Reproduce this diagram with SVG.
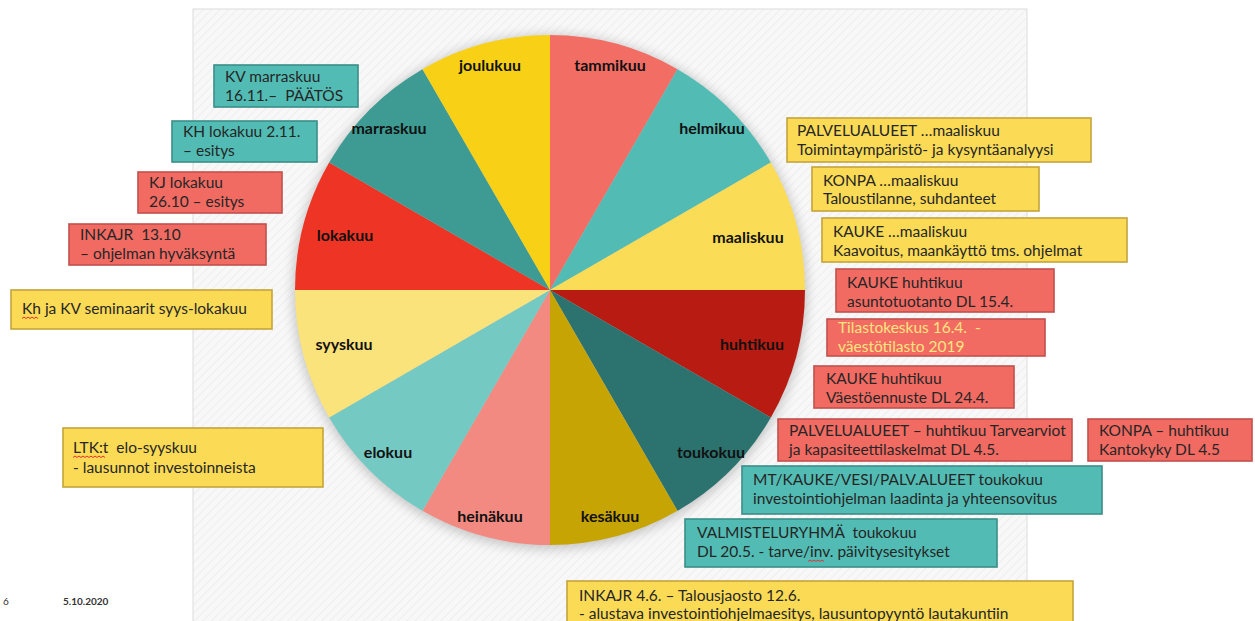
<svg xmlns="http://www.w3.org/2000/svg" width="1255" height="621" viewBox="0 0 1255 621">
<defs>
<pattern id="hatch" width="6" height="6" patternUnits="userSpaceOnUse" patternTransform="rotate(45)">
<rect width="6" height="6" fill="#F8F8F8"/>
<line x1="0" y1="0" x2="0" y2="6" stroke="#EBEBEB" stroke-width="1.5"/>
</pattern>
<filter id="shadow" x="-20%" y="-20%" width="140%" height="140%">
<feGaussianBlur stdDeviation="6"/>
</filter>
<style>
.lbl{font-family:Lato,"Noto Sans",sans-serif;font-weight:bold;font-size:16px;fill:#111;text-anchor:middle}
.bx{font-family:Lato,"Noto Sans",sans-serif;font-size:15.5px;fill:#262626;white-space:pre}
.teal{fill:#52BCB4;stroke:#3A8E88;stroke-width:1.6}
.red{fill:#F26B63;stroke:#C0504D;stroke-width:1.6}
.yel{fill:#FBDB55;stroke:#C4A43A;stroke-width:1.6}
.sq{fill:none;stroke:#E03030;stroke-width:1}
.foot{font-family:Lato,"Noto Sans",sans-serif;font-size:10px;fill:#333}
</style>
</defs>
<rect width="1255" height="621" fill="#FFFFFF"/>
<rect x="193" y="9" width="834" height="620" fill="url(#hatch)" stroke="#DCDCDC" stroke-width="1"/>

<g id="pie">
<circle cx="550" cy="292" r="257" fill="#9A9A9A" opacity="0.55" filter="url(#shadow)"/>
<path id="tammikuu" d="M550,290 L550,35 A255,255 0 0 1 677.5,69.16 Z" fill="#F26E65"/>
<path id="helmikuu" d="M550,290 L677.5,69.16 A255,255 0 0 1 770.84,162.5 Z" fill="#52BBB4"/>
<path id="maaliskuu" d="M550,290 L770.84,162.5 A255,255 0 0 1 805,290 Z" fill="#FADC57"/>
<path id="huhtikuu" d="M550,290 L805,290 A255,255 0 0 1 770.84,417.5 Z" fill="#B81B11"/>
<path id="toukokuu" d="M550,290 L770.84,417.5 A255,255 0 0 1 677.5,510.84 Z" fill="#2C736F"/>
<path id="kesakuu" d="M550,290 L677.5,510.84 A255,255 0 0 1 550,545 Z" fill="#C6A404"/>
<path id="heinakuu" d="M550,290 L550,545 A255,255 0 0 1 422.5,510.84 Z" fill="#F38A82"/>
<path id="elokuu" d="M550,290 L422.5,510.84 A255,255 0 0 1 329.16,417.5 Z" fill="#75C9C3"/>
<path id="syyskuu" d="M550,290 L329.16,417.5 A255,255 0 0 1 295,290 Z" fill="#FBE37B"/>
<path id="lokakuu" d="M550,290 L295,290 A255,255 0 0 1 329.16,162.5 Z" fill="#EE3424"/>
<path id="marraskuu" d="M550,290 L329.16,162.5 A255,255 0 0 1 422.5,69.16 Z" fill="#3D9B94"/>
<path id="joulukuu" d="M550,290 L422.5,69.16 A255,255 0 0 1 550,35 Z" fill="#F8D117"/>
<text class="lbl" x="610" y="71">tammikuu</text>
<text class="lbl" x="712" y="134">helmikuu</text>
<text class="lbl" x="748" y="243">maaliskuu</text>
<text class="lbl" x="752" y="350">huhtikuu</text>
<text class="lbl" x="711" y="458">toukokuu</text>
<text class="lbl" x="610" y="522">kesäkuu</text>
<text class="lbl" x="490" y="522">heinäkuu</text>
<text class="lbl" x="388" y="458">elokuu</text>
<text class="lbl" x="344" y="350">syyskuu</text>
<text class="lbl" x="345" y="241">lokakuu</text>
<text class="lbl" x="389" y="134">marraskuu</text>
<text class="lbl" x="490" y="71">joulukuu</text>
</g>

<g id="connectors"/>

<g id="kv-marraskuu">
<rect class="teal" x="214" y="65" width="144" height="42"/>
<text class="bx" x="225" y="82">KV marraskuu</text>
<text class="bx" x="225" y="101">16.11.–  PÄÄTÖS</text>
</g>
<g id="kh-lokakuu">
<rect class="teal" x="172" y="121" width="145" height="41"/>
<text class="bx" x="183" y="137">KH lokakuu 2.11.</text>
<text class="bx" x="183" y="156">– esitys</text>
</g>
<g id="kj-lokakuu">
<rect class="red" x="138" y="172" width="144" height="41"/>
<text class="bx" x="149" y="188">KJ lokakuu</text>
<text class="bx" x="149" y="207">26.10 – esitys</text>
</g>
<g id="inkajr-1310">
<rect class="red" x="69" y="224" width="197" height="41"/>
<text class="bx" x="80" y="240">INKAJR  13.10</text>
<text class="bx" x="80" y="259">– ohjelman hyväksyntä</text>
</g>
<g id="seminaarit">
<rect class="yel" x="11" y="290" width="261" height="39"/>
<text class="bx" x="22" y="314">Kh ja KV seminaarit syys-lokakuu</text>
<path class="sq" d="M22,318.5 l2,-1.5 2,1.5 2,-1.5 2,1.5 2,-1.5 2,1.5 2,-1.5 2,1.5"/>
</g>
<g id="ltk">
<rect class="yel" x="63" y="428" width="260" height="59"/>
<text class="bx" x="73" y="453">LTK:t  elo-syyskuu</text>
<text class="bx" x="73" y="473">- lausunnot investoinneista</text>
<path class="sq" d="M73,457.5 l2,-1.5 2,1.5 2,-1.5 2,1.5 2,-1.5 2,1.5 2,-1.5 2,1.5 2,-1.5 2,1.5 2,-1.5 2,1.5 2,-1.5 2,1.5 2,-1.5 2,1.5"/>
</g>

<g id="palvelualueet-maaliskuu">
<rect class="yel" x="787" y="118" width="304" height="44"/>
<text class="bx" x="797" y="136">PALVELUALUEET …maaliskuu</text>
<text class="bx" x="797" y="155">Toimintaympäristö- ja kysyntäanalyysi</text>
</g>
<g id="konpa-maaliskuu">
<rect class="yel" x="812" y="167" width="227" height="44"/>
<text class="bx" x="823" y="186">KONPA …maaliskuu</text>
<text class="bx" x="823" y="204">Taloustilanne, suhdanteet</text>
</g>
<g id="kauke-maaliskuu">
<rect class="yel" x="822" y="218" width="305" height="44"/>
<text class="bx" x="833" y="237">KAUKE …maaliskuu</text>
<text class="bx" x="833" y="256">Kaavoitus, maankäyttö tms. ohjelmat</text>
</g>
<g id="kauke-asuntotuotanto">
<rect class="red" x="836" y="269" width="218" height="43"/>
<text class="bx" x="847" y="288">KAUKE huhtikuu</text>
<text class="bx" x="847" y="307">asuntotuotanto DL 15.4.</text>
</g>
<g id="tilastokeskus">
<rect class="red" x="827" y="319" width="218" height="37"/>
<text class="bx" x="838" y="333" style="fill:#FDE47F">Tilastokeskus 16.4.  -</text>
<text class="bx" x="838" y="352" style="fill:#FDE47F">väestötilasto 2019</text>
</g>
<g id="kauke-vaestoennuste">
<rect class="red" x="814" y="366" width="200" height="42"/>
<text class="bx" x="826" y="384">KAUKE huhtikuu</text>
<text class="bx" x="826" y="403">Väestöennuste DL 24.4.</text>
</g>
<g id="palvelualueet-huhtikuu">
<rect class="red" x="778" y="419" width="294" height="42"/>
<text class="bx" x="789" y="436">PALVELUALUEET – huhtikuu Tarvearviot</text>
<text class="bx" x="789" y="455">ja kapasiteettilaskelmat DL 4.5.</text>
</g>
<g id="konpa-huhtikuu">
<rect class="red" x="1088" y="419" width="164" height="42"/>
<text class="bx" x="1099" y="436">KONPA – huhtikuu</text>
<text class="bx" x="1099" y="455">Kantokyky DL 4.5</text>
</g>
<g id="mt-kauke">
<rect class="teal" x="742" y="466" width="360" height="48"/>
<text class="bx" x="753" y="485">MT/KAUKE/VESI/PALV.ALUEET toukokuu</text>
<text class="bx" x="753" y="504">investointiohjelman laadinta ja yhteensovitus</text>
</g>
<g id="valmisteluryhma">
<rect class="teal" x="685" y="519" width="312" height="48"/>
<text class="bx" x="697" y="538">VALMISTELURYHMÄ  toukokuu</text>
<text class="bx" x="697" y="557">DL 20.5. - tarve/inv. päivitysesitykset</text>
<path class="sq" d="M808,561.5 l2,-1.5 2,1.5 2,-1.5 2,1.5 2,-1.5 2,1.5 2,-1.5 2,1.5"/>
</g>
<g id="inkajr-46">
<rect class="yel" x="567" y="581" width="506" height="50"/>
<text class="bx" x="579" y="601">INKAJR 4.6. – Talousjaosto 12.6.</text>
<text class="bx" x="579" y="619">- alustava investointiohjelmaesitys, lausuntopyyntö lautakuntiin</text>
</g>

<g id="footer">
<text class="foot" x="3" y="605">6</text>
<text class="foot" x="63" y="605" style="font-weight:bold">5.10.2020</text>
</g>
</svg>
